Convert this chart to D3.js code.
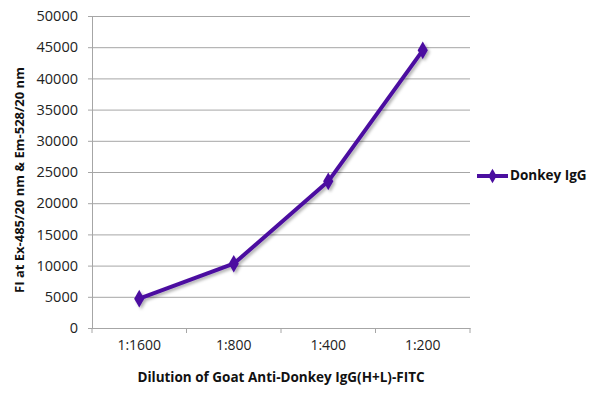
<!DOCTYPE html>
<html>
<head>
<meta charset="utf-8">
<script src="https://cdn.jsdelivr.net/npm/d3@7"></script>
<style>
  body { margin: 0; background: #fff; }
  .chart { width: 600px; height: 401px; }
  text { font-family: "Open Sans", "Noto Sans", sans-serif; }
</style>
</head>
<body>
<div class="chart"></div>
<script>
var categories = ['1:1600', '1:800', '1:400', '1:200'];
var seriesName = 'Donkey IgG';
var values = [4700, 10300, 23500, 44500];
var yTicks = [0, 5000, 10000, 15000, 20000, 25000, 30000, 35000, 40000, 45000, 50000];

var data = categories.map(function (c, i) {
  return { name: c, value: values[i] };
});

var svg = d3.select('.chart')
  .append('svg')
  .attr('width', 600)
  .attr('height', 401);

var defs = svg.append('defs');
var shadow = defs.append('filter')
  .attr('id', 'shadow')
  .attr('x', '-20%').attr('y', '-20%')
  .attr('width', '140%').attr('height', '140%');
shadow.append('feDropShadow')
  .attr('dx', 2).attr('dy', 2)
  .attr('stdDeviation', 1.5)
  .attr('flood-color', '#000')
  .attr('flood-opacity', 0.3);

var margin = { left: 92, top: 16, right: 130, bottom: 73 },
  width = 600 - margin.left - margin.right,
  height = 401 - margin.top - margin.bottom;

var g = svg.append('g')
  .attr('transform', 'translate(' + margin.left + ',' + margin.top + ')');

var x = d3.scaleBand().range([0, width]).domain(categories);
var y = d3.scaleLinear().range([height, 0]).domain([0, 50000]);

// gridlines
var grid = g.append('g')
  .call(d3.axisLeft(y).tickValues(yTicks).tickSize(-width).tickFormat(''));
grid.selectAll('line').attr('stroke', '#a6a6a6').attr('stroke-width', 1);
grid.select('path').remove();

// y axis
var axisY = g.append('g')
  .call(d3.axisLeft(y).tickValues(yTicks).tickSize(4).tickPadding(10).tickFormat(d3.format('d')));
axisY.select('path').attr('stroke', '#a6a6a6');
axisY.selectAll('line').attr('stroke', '#a6a6a6');
axisY.selectAll('text').style('font-size', '14.5px').style('fill', '#222');

// x axis
var axisX = g.append('g')
  .attr('transform', 'translate(0,' + height + ')')
  .call(d3.axisBottom(x).tickSize(0).tickPadding(12));
axisX.select('path').attr('stroke', '#a6a6a6');
axisX.selectAll('text').style('font-size', '14px').style('fill', '#222');
// tick marks at band edges
g.append('g')
  .selectAll('line')
  .data(categories.concat(['end']))
  .enter()
  .append('line')
  .attr('x1', function (d, i) { return i * x.step(); })
  .attr('x2', function (d, i) { return i * x.step(); })
  .attr('y1', height)
  .attr('y2', height + 5)
  .attr('stroke', '#a6a6a6');

// line
var line = d3.line()
  .x(function (d) { return x(d.name) + x.bandwidth() / 2; })
  .y(function (d) { return y(d.value); });

var series = g.append('g').attr('filter', 'url(#shadow)');
series.append('path')
  .datum(data)
  .attr('d', line)
  .attr('fill', 'none')
  .attr('stroke', '#4b0fa0')
  .attr('stroke-width', 4)
  .attr('stroke-linejoin', 'round');

var diamond = d3.symbol().type(d3.symbolDiamond).size(90);
series.selectAll('.pt')
  .data(data)
  .enter()
  .append('path')
  .attr('class', 'pt')
  .attr('d', diamond)
  .attr('transform', function (d) {
    return 'translate(' + (x(d.name) + x.bandwidth() / 2) + ',' + y(d.value) + ')';
  })
  .attr('fill', '#4b0fa0');

// axis titles
svg.append('text')
  .attr('transform', 'translate(21,180) rotate(-90)')
  .attr('text-anchor', 'middle')
  .attr('dominant-baseline', 'middle')
  .style('font-weight', 'bold')
  .style('font-size', '13px')
  .style('fill', '#111')
  .text('FI at Ex-485/20 nm & Em-528/20 nm');

svg.append('text')
  .attr('x', margin.left + width / 2)
  .attr('y', 382)
  .attr('text-anchor', 'middle')
  .style('font-weight', 'bold')
  .style('font-size', '13.5px')
  .style('fill', '#111')
  .text('Dilution of Goat Anti-Donkey IgG(H+L)-FITC');

// legend
var legend = svg.append('g').attr('transform', 'translate(477,176)');
legend.append('line')
  .attr('x1', 0).attr('x2', 31)
  .attr('stroke', '#4b0fa0').attr('stroke-width', 4);
legend.append('path')
  .attr('d', d3.symbol().type(d3.symbolDiamond).size(60))
  .attr('transform', 'translate(15.5,0)')
  .attr('fill', '#4b0fa0');
legend.append('text')
  .attr('x', 33)
  .attr('dominant-baseline', 'middle')
  .style('font-weight', 'bold')
  .style('font-size', '13.5px')
  .style('fill', '#111')
  .text(seriesName);
</script>
</body>
</html>
